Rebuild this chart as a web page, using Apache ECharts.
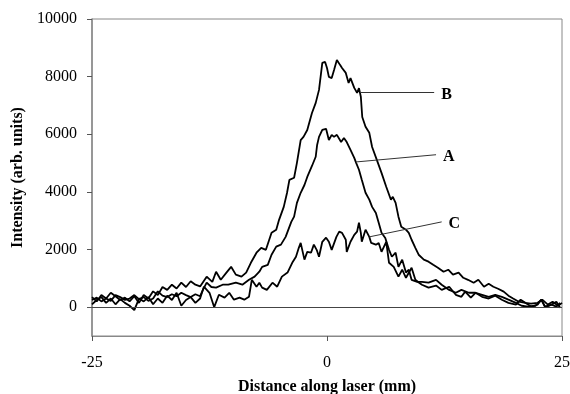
<!DOCTYPE html>
<html>
<head>
<meta charset="utf-8">
<script src="https://cdn.jsdelivr.net/npm/echarts@6/dist/echarts.min.js"></script>
<style>html,body{margin:0;padding:0;background:#fff}#c{width:570px;height:394px}</style>
</head>
<body>
<div id="c"></div>
<script>
var xTicks = [-25, 0, 25];
var yTicks = [0, 2000, 4000, 6000, 8000, 10000];

var curveB = [[-25,350],[-24.5,200],[-24,420],[-23.5,300],[-23,500],[-22.5,380],[-22,250],[-21.5,330],[-21,200],[-20.5,380],[-20,150],[-19.5,420],[-19,300],[-18.5,550],[-18,420],[-17.5,700],[-17,600],[-16.5,780],[-16,650],[-15.5,850],[-15,700],[-14.5,900],[-14,780],[-13.5,720],[-12.8,1060],[-12.2,880],[-11.8,1230],[-11.3,950],[-10.7,1200],[-10.2,1400],[-9.7,1130],[-9.1,1060],[-8.6,1200],[-8.1,1540],[-7.5,1890],[-7.0,2060],[-6.5,1990],[-5.9,2580],[-5.4,2690],[-5.1,3030],[-4.6,3480],[-4.25,3970],[-4.0,4420],[-3.5,4490],[-3.2,5010],[-2.8,5800],[-2.5,5910],[-2.3,5850],[-2.1,6150],[-1.6,6740],[-1.2,7090],[-0.85,7540],[-0.5,8475],[-0.2,8510],[0,8300],[0.2,7990],[0.5,7950],[0.75,8230],[1.05,8580],[1.4,8400],[1.6,8300],[2.0,8130],[2.3,7780],[2.5,7950],[2.9,7610],[3.2,7435],[3.4,7600],[3.6,7300],[3.75,6600],[4.1,6260],[4.5,6050],[4.8,5560],[5.3,5110],[5.8,4660],[6.3,4180],[6.8,3730],[7.0,3830],[7.3,3620],[7.6,3140],[7.9,2790],[8.4,2690],[8.7,2580],[9.0,2340],[9.4,2060],[9.75,1820],[10.3,1650],[10.8,1580],[11.3,1470],[11.8,1370],[12.4,1230],[12.9,1300],[13.4,1130],[14.0,1200],[14.5,1020],[15.0,950],[15.6,850],[16.1,950],[16.7,710],[17.2,810],[17.7,710],[18.2,640],[18.8,540],[19.3,400],[19.8,300],[20.4,190],[21.1,150],[21.7,120],[22.4,150],[22.9,260],[23.5,90],[24.0,190],[24.6,50],[25,150]];

var curveA = [[-25,250],[-24.5,330],[-24,200],[-23.5,300],[-23,220],[-22.5,420],[-22,350],[-21.5,250],[-21,300],[-20.5,420],[-20,280],[-19.5,350],[-19,220],[-18.5,300],[-18,550],[-17.5,400],[-17,350],[-16.5,450],[-16,380],[-15.5,500],[-15,420],[-14.5,350],[-14,450],[-13.5,380],[-13.2,600],[-12.8,850],[-12.3,700],[-11.8,680],[-11.1,780],[-10.5,780],[-9.7,850],[-9.0,780],[-8.3,950],[-7.7,1060],[-7.2,1230],[-6.9,1400],[-6.3,1470],[-5.9,1820],[-5.4,2100],[-4.9,2170],[-4.4,2440],[-3.8,2960],[-3.5,3140],[-3.2,3620],[-2.8,3970],[-2.4,4240],[-2.1,4520],[-1.6,4900],[-1.2,5220],[-1.05,5630],[-0.85,5910],[-0.5,6150],[-0.1,6190],[0.2,5800],[0.5,5980],[0.75,5910],[1.05,5980],[1.5,5730],[1.8,5870],[2.1,5730],[2.5,5460],[2.9,5180],[3.1,5010],[3.4,4770],[3.7,4420],[4.1,3970],[4.5,3730],[4.8,3480],[5.2,3270],[5.5,2930],[5.8,2580],[6.2,2400],[6.6,1990],[6.9,1750],[7.3,1890],[7.6,1400],[8.0,1650],[8.4,1200],[8.7,1300],[9.0,950],[9.6,880],[10.1,880],[10.8,850],[11.6,950],[12.2,780],[13.0,600],[13.7,500],[14.3,600],[15.1,500],[15.8,500],[16.5,430],[17.2,360],[17.9,430],[18.6,360],[19.3,260],[20.1,150],[20.7,50],[21.4,20],[22.2,50],[22.8,260],[23.2,0],[23.9,90],[24.4,20],[24.8,150]];

var curveC = [[-25,100],[-24.5,250],[-24,350],[-23.5,150],[-23,300],[-22.5,100],[-22,280],[-21.5,150],[-21,50],[-20.5,-100],[-20,300],[-19.5,200],[-19,350],[-18.5,100],[-18,300],[-17.5,150],[-17,400],[-16.5,250],[-16,500],[-15.5,50],[-15,250],[-14.5,350],[-14,150],[-13.5,300],[-13.1,710],[-12.5,500],[-12.0,0],[-11.5,430],[-10.9,330],[-10.4,500],[-9.9,260],[-9.3,330],[-8.8,260],[-8.3,360],[-8.0,950],[-7.5,710],[-7.2,850],[-6.9,680],[-6.4,600],[-5.8,850],[-5.3,710],[-4.8,1060],[-4.2,1200],[-3.7,1540],[-3.3,1750],[-3.0,2060],[-2.8,2230],[-2.4,1650],[-2.1,1920],[-1.7,1890],[-1.4,2170],[-1.1,1990],[-0.85,1750],[-0.5,2270],[-0.1,2410],[0.2,2270],[0.5,1990],[1.0,2440],[1.3,2620],[1.6,2580],[2.0,2340],[2.1,1920],[2.5,2270],[2.9,2510],[3.2,2620],[3.4,2930],[3.6,2580],[3.7,2270],[4.1,2690],[4.5,2440],[4.7,2230],[5.2,2170],[5.5,2230],[5.8,1920],[6.3,2270],[6.6,1540],[7.1,1400],[7.6,1060],[8.0,1300],[8.4,1020],[9.0,1370],[9.4,950],[9.8,850],[10.1,780],[10.8,680],[11.6,750],[12.2,600],[13.0,710],[13.7,430],[14.3,360],[14.7,540],[15.3,330],[15.8,500],[16.5,360],[17.2,300],[17.9,400],[18.6,260],[19.3,150],[20.1,90],[20.6,260],[21.1,150],[21.7,20],[22.4,90],[22.8,260],[23.2,20],[23.9,90],[24.4,190],[24.8,-20]];

// leader lines: [start, end] in data units, and labels
var leaderB = [[3.6, 7470], [11.4, 7470]];
var leaderA = [[3.1, 5040], [11.6, 5290]];
var leaderC = [[4.5, 2440], [12.2, 2960]];
var labels = ['A', 'B', 'C'];

var serif = '"Liberation Serif","Times New Roman",serif';
var lineStyle = { color: '#000', width: 1.8 };

function leader(pts, txt) {
  return {
    silent: true,
    symbol: 'none',
    lineStyle: { color: '#333', width: 1, type: 'solid' },
    label: { show: true, position: 'end', formatter: txt, distance: 7, offset: [0, 3],
      fontFamily: serif, fontWeight: 'bold', fontSize: 16, color: '#000' },
    data: [[{ coord: pts[0] }, { coord: pts[1] }]]
  };
}

var chart = echarts.init(document.getElementById('c'), null, { renderer: 'canvas' });
chart.setOption({
  animation: false,
  backgroundColor: '#fff',
  grid: { left: 92, right: 8, top: 19, bottom: 58, show: true, borderColor: '#888', borderWidth: 1,
    containLabel: false, outerBoundsMode: 'none' },
  xAxis: {
    type: 'value', min: -25, max: 25, interval: 25,
    name: 'Distance along laser (mm)', nameLocation: 'middle', nameGap: 43,
    nameTextStyle: { fontFamily: serif, fontWeight: 'bold', fontSize: 16, color: '#000' },
    axisLine: { onZero: false, lineStyle: { color: '#888', width: 1 } },
    axisTick: { show: true, inside: false, length: 5, lineStyle: { color: '#555' } },
    axisLabel: { fontFamily: serif, fontSize: 16, color: '#000', margin: 19,
      customValues: xTicks, formatter: function (v) { return String(v); } },
    splitLine: { show: false }
  },
  yAxis: {
    type: 'value', min: -1000, max: 10000,
    name: 'Intensity (arb. units)', nameLocation: 'middle', nameGap: 66, nameRotate: 90,
    nameTextStyle: { fontFamily: serif, fontWeight: 'bold', fontSize: 16, color: '#000' },
    axisLine: { show: true, onZero: false, lineStyle: { color: '#888', width: 1.5 } },
    axisTick: { show: true, inside: false, length: 5, customValues: yTicks, lineStyle: { color: '#555' } },
    axisLabel: { fontFamily: serif, fontSize: 16, color: '#000', margin: 15,
      customValues: yTicks, formatter: function (v) { return String(v); } },
    splitLine: { show: false }
  },
  series: [
    { type: 'line', name: labels[1], data: curveB, showSymbol: false, lineStyle: lineStyle, z: 3,
      markLine: leader(leaderB, labels[1]) },
    { type: 'line', name: labels[0], data: curveA, showSymbol: false, lineStyle: lineStyle, z: 3,
      markLine: leader(leaderA, labels[0]) },
    { type: 'line', name: labels[2], data: curveC, showSymbol: false, lineStyle: lineStyle, z: 3,
      markLine: leader(leaderC, labels[2]) },
    { type: 'line', data: [], markLine: { silent: true, symbol: 'none',
        lineStyle: { color: '#444', width: 1, type: 'solid' }, label: { show: false },
        data: [{ yAxis: 0 }] } }
  ]
});
</script>
</body>
</html>
